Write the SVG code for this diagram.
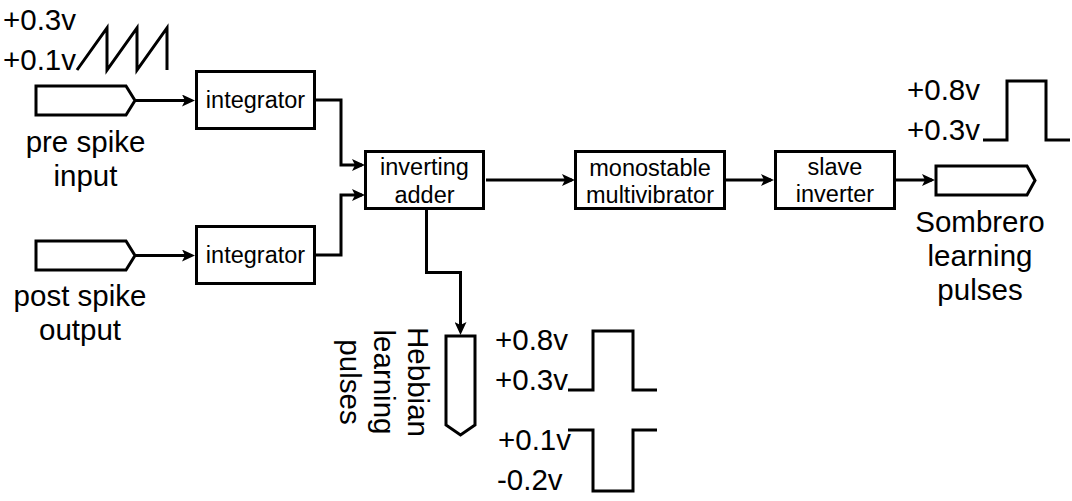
<svg xmlns="http://www.w3.org/2000/svg" width="1072" height="501" viewBox="0 0 1072 501">
<style>
.box{fill:#fff;stroke:#000;stroke-width:3}
.wire{fill:none;stroke:#000;stroke-width:3;stroke-linejoin:miter}
.t{font-family:"Liberation Sans",Arial,sans-serif;fill:#000}
.s{font-size:23.5px}
.l{font-size:29.5px}
.c{text-anchor:middle}
</style>
<defs>
<marker id="arr" markerUnits="userSpaceOnUse" viewBox="0 0 13 12" refX="10" refY="6" markerWidth="13" markerHeight="12" orient="auto">
<path d="M13,6 L0,0 L3,6 L0,12 Z" fill="#000"/>
</marker>
</defs>
<rect width="1072" height="501" fill="#fff"/>

<g id="connectors">
<path class="wire" d="M136,100.5 H192" marker-end="url(#arr)"/>
<path class="wire" d="M136,255.5 H192" marker-end="url(#arr)"/>
<path class="wire" d="M316,100 H341 V165 H362" marker-end="url(#arr)"/>
<path class="wire" d="M316,255 H341 V195 H362" marker-end="url(#arr)"/>
<path class="wire" d="M486,180 H572" marker-end="url(#arr)"/>
<path class="wire" d="M726,180 H771" marker-end="url(#arr)"/>
<path class="wire" d="M896,180 H932" marker-end="url(#arr)"/>
<path class="wire" d="M426.5,210 V272.5 H460.5 V332" marker-end="url(#arr)"/>
</g>

<g id="pre-spike-input">
<polygon class="box" points="36,86 126,86 135,100.5 126,115 36,115"/>
<text class="t l c" x="85.5" y="152">pre spike</text>
<text class="t l c" x="85.5" y="186">input</text>
</g>

<g id="pre-waveform">
<text class="t l" x="3" y="30">+0.3v</text>
<text class="t l" x="3" y="70">+0.1v</text>
<path class="wire" d="M77,70 L107,28 V70 L137,28 V70 L167,28 V70"/>
</g>

<g id="post-spike-output">
<polygon class="box" points="36,241 126,241 135,255.5 126,270 36,270"/>
<text class="t l c" x="80" y="306">post spike</text>
<text class="t l c" x="80" y="340">output</text>
</g>

<g id="integrator-1">
<rect class="box" x="196.5" y="71.5" width="118" height="57"/>
<text class="t s c" x="255.5" y="108">integrator</text>
</g>

<g id="integrator-2">
<rect class="box" x="196.5" y="226.5" width="118" height="57"/>
<text class="t s c" x="255.5" y="263">integrator</text>
</g>

<g id="inverting-adder">
<rect class="box" x="365.5" y="151.5" width="118" height="57"/>
<text class="t s c" x="424.5" y="175">inverting</text>
<text class="t s c" x="424.5" y="203">adder</text>
</g>

<g id="monostable-multivibrator">
<rect class="box" x="575.5" y="151.5" width="149" height="57"/>
<text class="t s c" x="650" y="176">monostable</text>
<text class="t s c" x="650" y="203">multivibrator</text>
</g>

<g id="slave-inverter">
<rect class="box" x="775.5" y="151.5" width="119" height="57"/>
<text class="t s c" x="835" y="175">slave</text>
<text class="t s c" x="835" y="202">inverter</text>
</g>

<g id="sombrero-output">
<polygon class="box" points="936,166 1027,166 1035,180.5 1027,195 936,195"/>
<text class="t l c" x="980" y="232">Sombrero</text>
<text class="t l c" x="980" y="266">learning</text>
<text class="t l c" x="980" y="300">pulses</text>
</g>

<g id="sombrero-waveform">
<text class="t l" x="907" y="100">+0.8v</text>
<text class="t l" x="907" y="140">+0.3v</text>
<path class="wire" d="M983,140 H1007 V81 H1046 V140 H1070"/>
</g>

<g id="hebbian-output">
<polygon class="box" points="446,336 475,336 475,425 460.5,435 446,425"/>
<g transform="translate(408,382) rotate(90)">
<text class="t l c" x="0" y="0">Hebbian</text>
<text class="t l c" x="0" y="34">learning</text>
<text class="t l c" x="0" y="68">pulses</text>
</g>
</g>

<g id="hebbian-waveforms">
<text class="t l" x="495" y="350">+0.8v</text>
<text class="t l" x="495" y="390">+0.3v</text>
<path class="wire" d="M568,390 H593 V331 H633 V390 H657"/>
<text class="t l" x="498" y="450">+0.1v</text>
<text class="t l" x="497" y="490">-0.2v</text>
<path class="wire" d="M568,430 H593 V491 H633 V430 H657"/>
</g>
</svg>
